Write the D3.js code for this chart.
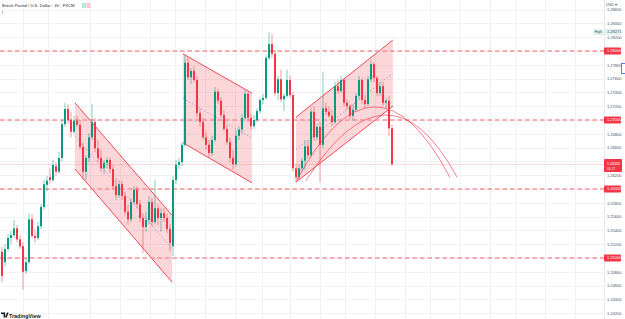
<!DOCTYPE html>
<html>
<head>
<meta charset="utf-8">
<script src="https://cdn.jsdelivr.net/npm/d3@7"></script>
<style>
  html, body { margin: 0; padding: 0; background: #fff; }
  svg { display: block; font-family: "Liberation Sans", Arial, sans-serif; }
</style>
</head>
<body>
<div id="chart"></div>
<script>
// ===============================
// Data (GBPUSD 4h candles)
// ===============================
const opens = [
  1.2509, 1.2494, 1.2513, 1.2529, 1.2533, 1.2543, 1.2527, 1.2517, 1.2481, 1.2494,
  1.2556, 1.2532, 1.2529, 1.2546, 1.2574, 1.2606, 1.2617, 1.2613, 1.2633, 1.2625,
  1.2645, 1.2694, 1.2716, 1.2700, 1.2683, 1.2699, 1.2693, 1.2661, 1.2625, 1.2645,
  1.2675, 1.2697, 1.2659, 1.2645, 1.2630, 1.2638, 1.2642, 1.2629, 1.2604, 1.2591,
  1.2607, 1.2590, 1.2567, 1.2556, 1.2581, 1.2599, 1.2578, 1.2558, 1.2545, 1.2555,
  1.2581, 1.2552, 1.2572, 1.2558, 1.2565, 1.2558, 1.2542, 1.2517, 1.2613, 1.2635,
  1.2639, 1.2664, 1.2783, 1.2762, 1.2771, 1.2758, 1.2710, 1.2697, 1.2675, 1.2664,
  1.2652, 1.2671, 1.2741, 1.2728, 1.2707, 1.2687, 1.2668, 1.2645, 1.2636, 1.2677,
  1.2686, 1.2703, 1.2738, 1.2703, 1.2691, 1.2700, 1.2713, 1.2729, 1.2732, 1.2790,
  1.2810, 1.2796, 1.2739, 1.2759, 1.2730, 1.2735, 1.2758, 1.2736, 1.2630, 1.2617,
  1.2630, 1.2641, 1.2662, 1.2649, 1.2712, 1.2675, 1.2690, 1.2664, 1.2717, 1.2712,
  1.2706, 1.2697, 1.2749, 1.2742, 1.2758, 1.2725, 1.2720, 1.2706, 1.2715, 1.2735,
  1.2758, 1.2729, 1.2723, 1.2759, 1.2781, 1.2761, 1.2739, 1.2749, 1.2725, 1.2728, 1.2688
];
const highs = [
  1.2516, 1.2520, 1.2535, 1.2539, 1.2555, 1.2548, 1.2533, 1.2523, 1.2500, 1.2564,
  1.2564, 1.2541, 1.2552, 1.2578, 1.2613, 1.2619, 1.2630, 1.2642, 1.2639, 1.2654,
  1.2700, 1.2725, 1.2723, 1.2712, 1.2706, 1.2706, 1.2700, 1.2667, 1.2649, 1.2681,
  1.2723, 1.2703, 1.2671, 1.2657, 1.2642, 1.2646, 1.2645, 1.2635, 1.2616, 1.2613,
  1.2612, 1.2596, 1.2577, 1.2587, 1.2604, 1.2604, 1.2584, 1.2564, 1.2567, 1.2590,
  1.2587, 1.2613, 1.2577, 1.2572, 1.2572, 1.2564, 1.2549, 1.2619, 1.2642, 1.2645,
  1.2668, 1.2794, 1.2790, 1.2775, 1.2778, 1.2764, 1.2717, 1.2703, 1.2683, 1.2671,
  1.2677, 1.2748, 1.2745, 1.2733, 1.2715, 1.2693, 1.2674, 1.2657, 1.2686, 1.2691,
  1.2709, 1.2744, 1.2741, 1.2709, 1.2707, 1.2717, 1.2733, 1.2738, 1.2794, 1.2827,
  1.2825, 1.2802, 1.2764, 1.2773, 1.2738, 1.2773, 1.2764, 1.2741, 1.2636, 1.2635,
  1.2645, 1.2671, 1.2671, 1.2717, 1.2720, 1.2694, 1.2697, 1.2770, 1.2725, 1.2720,
  1.2715, 1.2755, 1.2759, 1.2764, 1.2761, 1.2730, 1.2723, 1.2723, 1.2739, 1.2764,
  1.2761, 1.2735, 1.2764, 1.2787, 1.2784, 1.2764, 1.2755, 1.2755, 1.2732, 1.2735, 1.2694
];
const lows = [
  1.2465, 1.2488, 1.2509, 1.2520, 1.2529, 1.2523, 1.2513, 1.2454, 1.2477, 1.2491,
  1.2529, 1.2522, 1.2526, 1.2542, 1.2570, 1.2597, 1.2607, 1.2610, 1.2619, 1.2622,
  1.2639, 1.2690, 1.2694, 1.2675, 1.2680, 1.2690, 1.2657, 1.2613, 1.2613, 1.2639,
  1.2671, 1.2654, 1.2639, 1.2625, 1.2622, 1.2630, 1.2623, 1.2599, 1.2584, 1.2587,
  1.2584, 1.2562, 1.2548, 1.2552, 1.2577, 1.2572, 1.2552, 1.2507, 1.2538, 1.2549,
  1.2546, 1.2549, 1.2548, 1.2538, 1.2552, 1.2536, 1.2509, 1.2503, 1.2607, 1.2629,
  1.2633, 1.2661, 1.2758, 1.2752, 1.2755, 1.2704, 1.2691, 1.2671, 1.2657, 1.2646,
  1.2648, 1.2668, 1.2723, 1.2703, 1.2683, 1.2664, 1.2638, 1.2628, 1.2633, 1.2671,
  1.2680, 1.2700, 1.2697, 1.2686, 1.2687, 1.2697, 1.2709, 1.2723, 1.2729, 1.2787,
  1.2790, 1.2735, 1.2729, 1.2726, 1.2713, 1.2732, 1.2732, 1.2625, 1.2610, 1.2613,
  1.2625, 1.2628, 1.2645, 1.2646, 1.2670, 1.2671, 1.2610, 1.2659, 1.2707, 1.2703,
  1.2691, 1.2694, 1.2738, 1.2739, 1.2720, 1.2715, 1.2701, 1.2699, 1.2712, 1.2730,
  1.2723, 1.2717, 1.2720, 1.2755, 1.2755, 1.2735, 1.2735, 1.2720, 1.2717, 1.2677, 1.2633
];
const closes = [
  1.2474, 1.2513, 1.2529, 1.2533, 1.2543, 1.2527, 1.2517, 1.2480, 1.2494, 1.2556,
  1.2532, 1.2529, 1.2546, 1.2574, 1.2607, 1.2612, 1.2613, 1.2635, 1.2625, 1.2645,
  1.2694, 1.2716, 1.2700, 1.2683, 1.2699, 1.2693, 1.2661, 1.2625, 1.2645, 1.2675,
  1.2697, 1.2659, 1.2645, 1.2630, 1.2638, 1.2642, 1.2629, 1.2604, 1.2591, 1.2607,
  1.2590, 1.2567, 1.2556, 1.2581, 1.2599, 1.2578, 1.2558, 1.2545, 1.2555, 1.2581,
  1.2552, 1.2572, 1.2558, 1.2565, 1.2558, 1.2542, 1.2522, 1.2613, 1.2635, 1.2639,
  1.2664, 1.2783, 1.2762, 1.2771, 1.2758, 1.2710, 1.2697, 1.2675, 1.2664, 1.2652,
  1.2671, 1.2741, 1.2728, 1.2707, 1.2687, 1.2668, 1.2645, 1.2636, 1.2677, 1.2686,
  1.2703, 1.2738, 1.2703, 1.2691, 1.2700, 1.2713, 1.2729, 1.2732, 1.2790, 1.2810,
  1.2796, 1.2739, 1.2759, 1.2730, 1.2735, 1.2758, 1.2736, 1.2630, 1.2617, 1.2630,
  1.2641, 1.2662, 1.2649, 1.2712, 1.2675, 1.2690, 1.2664, 1.2717, 1.2712, 1.2706,
  1.2697, 1.2749, 1.2742, 1.2758, 1.2725, 1.2720, 1.2706, 1.2715, 1.2735, 1.2758,
  1.2729, 1.2723, 1.2759, 1.2781, 1.2761, 1.2739, 1.2749, 1.2725, 1.2728, 1.2688, 1.2636
];

// price scale ticks and the four round-number levels
const tickPrices = [1.286, 1.284, 1.282, 1.278, 1.276, 1.274, 1.272, 1.268, 1.266,
  1.264, 1.262, 1.258, 1.256, 1.254, 1.252, 1.248, 1.246, 1.244, 1.242];
const levelPrices = [1.28, 1.27, 1.26, 1.25];
const gridBars = [7, 15.3, 29.3, 39.3, 49.3, 57.7, 67.7, 77.7, 86.7, 96, 106, 114.3,
  124.3, 134.3, 142.7, 152.7, 162.7, 171, 181, 191];

// drawings: channels (bar range, top line prices, bottom line prices)
const channelBars = [[24.3, 56.7], [60.3, 83.3], [98, 130.3]];
const channelTop = [[1.2725, 1.2562], [1.2796, 1.2739], [1.2704, 1.2816]];
const channelBottom = [[1.2629, 1.2465], [1.2667, 1.2609], [1.2610, 1.2720]];

// drawings: two arcs, [bar, price] for start, control, end
const arcOuter = [[98.3, 1.2613], [124.3, 1.2823], [149.3, 1.2617]];
const arcInner = [[101.3, 1.2612], [128.8, 1.2800], [151.7, 1.2617]];

const highPrice = 1.28271;
const lastPrice = 1.26362;
const countdown = "01:17";
const title = "British Pound / U.S. Dollar · 4h · FXCM";

// ===============================
// Constants
// ===============================
const width = 625;
const height = 319;
const plotRight = 604;
const upColor = "#089981";
const downColor = "#f23645";
const fmt = d3.format(".5f");

const x = d3.scaleLinear().domain([0, 200]).range([2, 602]);
const y = d3.scaleLinear().domain([1.28, 1.25]).range([51, 258]);

const svg = d3.select("#chart")
  .append("svg")
  .attr("width", width)
  .attr("height", height);

svg.append("defs")
  .append("clipPath")
  .attr("id", "plot-clip")
  .append("rect")
  .attr("width", plotRight)
  .attr("height", height);

const plot = svg.append("g").attr("clip-path", "url(#plot-clip)");

// grid
plot.append("g")
  .selectAll("line")
  .data(tickPrices.concat(levelPrices))
  .join("line")
  .attr("x1", 0)
  .attr("x2", plotRight)
  .attr("y1", d => Math.round(y(d)) + 0.5)
  .attr("y2", d => Math.round(y(d)) + 0.5)
  .attr("stroke", "#f0f2f6");

plot.append("g")
  .selectAll("line")
  .data(gridBars)
  .join("line")
  .attr("x1", d => Math.round(x(d)) + 0.5)
  .attr("x2", d => Math.round(x(d)) + 0.5)
  .attr("y1", 0)
  .attr("y2", height)
  .attr("stroke", "#f0f2f6");

// channels
const poly = d3.line();
channelBars.forEach((b, k) => {
  const pts = [
    [x(b[0]), y(channelTop[k][0])],
    [x(b[1]), y(channelTop[k][1])],
    [x(b[1]), y(channelBottom[k][1])],
    [x(b[0]), y(channelBottom[k][0])]
  ];
  plot.append("path")
    .attr("d", poly(pts) + "Z")
    .attr("fill", downColor)
    .attr("fill-opacity", 0.2)
    .attr("stroke", "none");
  plot.append("line")
    .attr("x1", pts[0][0]).attr("y1", pts[0][1])
    .attr("x2", pts[1][0]).attr("y2", pts[1][1])
    .attr("stroke", downColor).attr("stroke-width", 0.9);
  plot.append("line")
    .attr("x1", pts[3][0]).attr("y1", pts[3][1])
    .attr("x2", pts[2][0]).attr("y2", pts[2][1])
    .attr("stroke", downColor).attr("stroke-width", 0.9);
  // median line
  plot.append("line")
    .attr("x1", pts[0][0]).attr("y1", (pts[0][1] + pts[3][1]) / 2)
    .attr("x2", pts[1][0]).attr("y2", (pts[1][1] + pts[2][1]) / 2)
    .attr("stroke", "#8f8fe0")
    .attr("stroke-width", 0.7)
    .attr("stroke-dasharray", "1.5,2");
});

// round-number levels
plot.append("g")
  .selectAll("line")
  .data(levelPrices)
  .join("line")
  .attr("x1", 0)
  .attr("x2", plotRight)
  .attr("y1", d => Math.round(y(d)))
  .attr("y2", d => Math.round(y(d)))
  .attr("stroke", "#f6939a")
  .attr("stroke-width", 1.3)
  .attr("stroke-dasharray", "4.5,3");

// last price line
plot.append("line")
  .attr("x1", 0)
  .attr("x2", plotRight)
  .attr("y1", Math.round(y(lastPrice)) + 0.5)
  .attr("y2", Math.round(y(lastPrice)) + 0.5)
  .attr("stroke", downColor)
  .attr("stroke-opacity", 0.18);

// candles
const candles = opens.map((o, i) => ({ i, o, h: highs[i], l: lows[i], c: closes[i] }));

plot.append("g")
  .selectAll("line")
  .data(candles)
  .join("line")
  .attr("x1", d => x(d.i))
  .attr("x2", d => x(d.i))
  .attr("y1", d => y(d.h))
  .attr("y2", d => y(d.l))
  .attr("stroke", d => (d.c >= d.o ? upColor : downColor))
  .attr("stroke-opacity", 0.5)
  .attr("stroke-width", 1);

plot.append("g")
  .selectAll("rect")
  .data(candles)
  .join("rect")
  .attr("x", d => x(d.i) - 1)
  .attr("width", 2)
  .attr("y", d => y(Math.max(d.o, d.c)))
  .attr("height", d => Math.max(1, Math.abs(y(d.o) - y(d.c))))
  .attr("fill", d => (d.c >= d.o ? upColor : downColor));

// arcs
[arcOuter, arcInner].forEach(a => {
  plot.append("path")
    .attr("d", `M${x(a[0][0])},${y(a[0][1])} Q${x(a[1][0])},${y(a[1][1])} ${x(a[2][0])},${y(a[2][1])}`)
    .attr("fill", "none")
    .attr("stroke", downColor)
    .attr("stroke-opacity", 0.8)
    .attr("stroke-width", 0.8);
});

// ===============================
// Price axis
// ===============================
svg.append("line")
  .attr("x1", plotRight + 0.5)
  .attr("x2", plotRight + 0.5)
  .attr("y1", 0)
  .attr("y2", height)
  .attr("stroke", "#e6e8ee");

// the last price tag hides the tick label it sits on
const ly = Math.round(y(lastPrice));
const visibleTicks = tickPrices.filter(p => Math.abs(y(p) - ly) > 6);

const axis = svg.append("g")
  .attr("transform", `translate(${plotRight},0)`)
  .call(d3.axisRight(y).tickValues(visibleTicks).tickSize(0).tickPadding(3).tickFormat(fmt));
axis.select(".domain").remove();
axis.selectAll("text")
  .attr("font-size", "4px")
  .attr("font-family", "Liberation Sans, Arial, sans-serif")
  .attr("fill", "#4a4e5a");

// level labels
const levelTags = svg.append("g")
  .selectAll("g")
  .data(levelPrices)
  .join("g")
  .attr("transform", d => `translate(${plotRight},${Math.round(y(d))})`);
levelTags.append("rect")
  .attr("x", 0).attr("y", -3.5).attr("width", 17).attr("height", 7)
  .attr("rx", 1)
  .attr("fill", downColor);
levelTags.append("text")
  .attr("x", 3).attr("y", 1.4)
  .attr("font-size", "4px")
  .attr("fill", "#fff")
  .text(d => fmt(d));

// high label
const hy = Math.round(y(highPrice));
svg.append("rect")
  .attr("x", 593).attr("y", hy - 3).attr("width", 28).attr("height", 6)
  .attr("fill", "#dff3ef");
svg.append("text")
  .attr("x", 594.5).attr("y", hy + 1.4)
  .attr("font-size", "3.6px").attr("fill", "#4a4e5a")
  .text("High");
svg.append("text")
  .attr("x", plotRight + 3).attr("y", hy + 1.4)
  .attr("font-size", "4px").attr("fill", "#4a4e5a")
  .text(fmt(highPrice));

// last price label
svg.append("rect")
  .attr("x", plotRight).attr("y", ly - 5).attr("width", 18).attr("height", 13)
  .attr("rx", 1)
  .attr("fill", downColor);
svg.append("text")
  .attr("x", plotRight + 3).attr("y", ly + 0.5)
  .attr("font-size", "3.6px").attr("fill", "#fff")
  .text(fmt(lastPrice));
svg.append("text")
  .attr("x", plotRight + 3).attr("y", ly + 6)
  .attr("font-size", "3.2px").attr("fill", "#fff")
  .text(countdown);

// currency and side button
svg.append("text")
  .attr("x", 606).attr("y", 6)
  .attr("font-size", "3.8px").attr("fill", "#4a4e5a")
  .text("USD ▾");
svg.append("rect")
  .attr("x", 621.5).attr("y", 63.5).attr("width", 6).attr("height", 10)
  .attr("fill", "#fff")
  .attr("stroke", "#2962ff")
  .attr("stroke-width", 0.8);

// ===============================
// Header and logo
// ===============================
svg.append("text")
  .attr("x", 2).attr("y", 7)
  .attr("font-size", "4.2px").attr("fill", "#2a2e39")
  .text(title);
svg.append("rect")
  .attr("x", 82).attr("y", 3).attr("width", 4).attr("height", 5)
  .attr("fill", "#b9e6dd");
svg.append("rect")
  .attr("x", 86.5).attr("y", 3).attr("width", 4).attr("height", 5)
  .attr("fill", "#fbc9cd");
svg.append("text")
  .attr("x", 2).attr("y", 13.5)
  .attr("font-size", "4px").attr("fill", "#2a2e39")
  .text("ⅰ");

svg.append("path")
  .attr("d", "M1,312.5 h4.2 v5 h-1.6 v-3.4 h-2.6 Z M5.2,317.5 l1.8,-5 h1.6 l-1.8,5 Z")
  .attr("fill", "#131722");
svg.append("text")
  .attr("x", 9).attr("y", 317.5)
  .attr("font-size", "5.4px").attr("font-weight", 700).attr("fill", "#131722")
  .text("TradingView");
</script>
</body>
</html>
